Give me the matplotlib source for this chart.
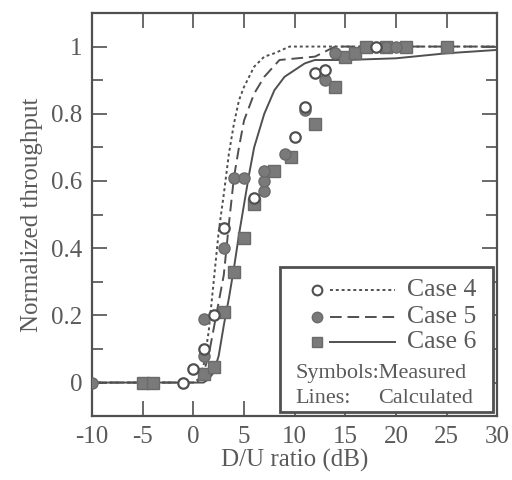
import matplotlib.pyplot as plt
from matplotlib.patches import Rectangle
from matplotlib.ticker import MultipleLocator

# measured points
case4_x = [-1, 0, 1, 2, 3, 6, 10, 11, 12, 13, 18]
case4_y = [0, 0.04, 0.1, 0.2, 0.46, 0.55, 0.73, 0.82, 0.92, 0.93, 1.0]
case5_x = [-10, 1, 1, 3, 4, 5, 7, 7, 7, 9, 11, 13, 14, 19, 20]
case5_y = [0, 0.08, 0.19, 0.40, 0.61, 0.61, 0.57, 0.60, 0.63, 0.68, 0.81, 0.90, 0.98, 1.0, 1.0]
case6_x = [-5, -4, 1, 2, 3, 4, 5, 6, 8, 9.6, 12, 14, 15, 16, 17, 19, 21, 25]
case6_y = [0, 0, 0.025, 0.045, 0.21, 0.33, 0.43, 0.53, 0.63, 0.67, 0.77, 0.88, 0.97, 0.98, 1.0, 1.0, 1.0, 1.0]

# calculated curves
calc4_x = [-10, 0, 0.5, 1, 1.5, 2, 2.5, 3, 3.5, 4, 4.5, 5, 6, 7, 8, 9.5, 30]
calc4_y = [0, 0, 0.01, 0.05, 0.15, 0.3, 0.45, 0.56, 0.68, 0.77, 0.84, 0.88, 0.94, 0.97, 0.98, 1.0, 1.0]
calc5_x = [-10, 0, 0.5, 1, 1.5, 2, 2.5, 3, 3.5, 4, 4.5, 5, 6, 7, 8.5, 12, 14, 30]
calc5_y = [0, 0, 0.005, 0.03, 0.08, 0.16, 0.24, 0.32, 0.47, 0.61, 0.7, 0.78, 0.86, 0.91, 0.96, 0.97, 1.0, 1.0]
calc6_x = [-10, 1, 1.5, 2, 2.5, 3, 3.5, 4, 4.5, 5, 5.5, 6, 7, 8, 9, 10, 11, 12, 15, 20, 25, 30]
calc6_y = [0, 0, 0.01, 0.03, 0.08, 0.17, 0.25, 0.34, 0.44, 0.53, 0.62, 0.7, 0.8, 0.87, 0.91, 0.93, 0.95, 0.96, 0.96, 0.965, 0.98, 0.99]

labels = ['Case 4', 'Case 5', 'Case 6']

ink = '#505050'
txt = '#5a5a5a'
mfill = '#7a7a7a'

plt.rcParams['font.family'] = ['Liberation Serif', 'DejaVu Serif']
plt.rcParams['axes.unicode_minus'] = False

fig = plt.figure(figsize=(5.12, 4.8), dpi=100)
ax = fig.add_axes([0.18, 0.133, 0.791, 0.84])

ax.plot(calc4_x, calc4_y, color=ink, lw=1.4, ls=(0, (1.5, 1.5)))
ax.plot(calc5_x, calc5_y, color=ink, lw=1.4, ls=(0, (6, 3)))
ax.plot(calc6_x, calc6_y, color=ink, lw=1.4, ls='-')

ax.plot(case6_x, case6_y, 's', ms=8.5, mfc=mfill, mec='#6a6a6a', ls='none', zorder=3)
ax.plot(case5_x, case5_y, 'o', ms=8, mfc=mfill, mec='#6a6a6a', ls='none', zorder=4)
ax.plot(case4_x, case4_y, 'o', ms=7.5, mfc='white', mec=ink, mew=1.6, ls='none', zorder=5)

ax.set_xlim(-10, 30)
ax.set_ylim(-0.1, 1.1)
ax.xaxis.set_major_locator(MultipleLocator(5))
ax.yaxis.set_minor_locator(MultipleLocator(0.1))
ax.set_yticks([0, 0.2, 0.4, 0.6, 0.8, 1.0])
ax.set_yticklabels(['0', '0.2', '0.4', '0.6', '0.8', '1'])
ax.tick_params(which='both', direction='in', top=True, right=True, color=ink,
               labelcolor=txt, labelsize=18, pad=7)
ax.tick_params(which='major', length=11, width=1.2)
ax.tick_params(which='minor', length=8, width=1.2)
for s in ax.spines.values():
    s.set_color(ink)
    s.set_linewidth(1.6)

ax.set_xlabel('D/U ratio (dB)', fontsize=18, color=txt, labelpad=1)
ax.set_ylabel('Normalized throughput', fontsize=18, color=txt, labelpad=6)

# legend box drawn by hand
box = Rectangle((0.464, 0.01), 0.526, 0.36, transform=ax.transAxes, fill=True,
                facecolor='white', edgecolor=ink, lw=2, zorder=6)
ax.add_patch(box)
rows = [0.313, 0.246, 0.184]
styles = [(0, (1.5, 1.5)), (0, (6, 3)), '-']
mk = [('o', 'white', 7), ('o', mfill, 7.5), ('s', mfill, 7.5)]
for yy, lab, st, (m, fc, ms) in zip(rows, labels, styles, mk):
    ax.plot([0.556], [yy], m, ms=ms, mfc=fc, mec=ink if fc == 'white' else '#6a6a6a',
            mew=1.5 if fc == 'white' else 1, transform=ax.transAxes, zorder=7, clip_on=False)
    ax.plot([0.588, 0.748], [yy, yy], color=ink, lw=1.4, ls=st,
            transform=ax.transAxes, zorder=7, clip_on=False)
    ax.text(0.778, yy, lab, transform=ax.transAxes, fontsize=18.5, color=txt,
            va='center', ha='left', zorder=8)
ax.text(0.501, 0.107, 'Symbols:Measured', transform=ax.transAxes, fontsize=16,
        color=txt, va='center', ha='left', zorder=8)
ax.text(0.501, 0.045, 'Lines:', transform=ax.transAxes, fontsize=16,
        color=txt, va='center', ha='left', zorder=8)
ax.text(0.94, 0.045, 'Calculated', transform=ax.transAxes, fontsize=16,
        color=txt, va='center', ha='right', zorder=8)

fig.savefig('out.png', dpi=100)
